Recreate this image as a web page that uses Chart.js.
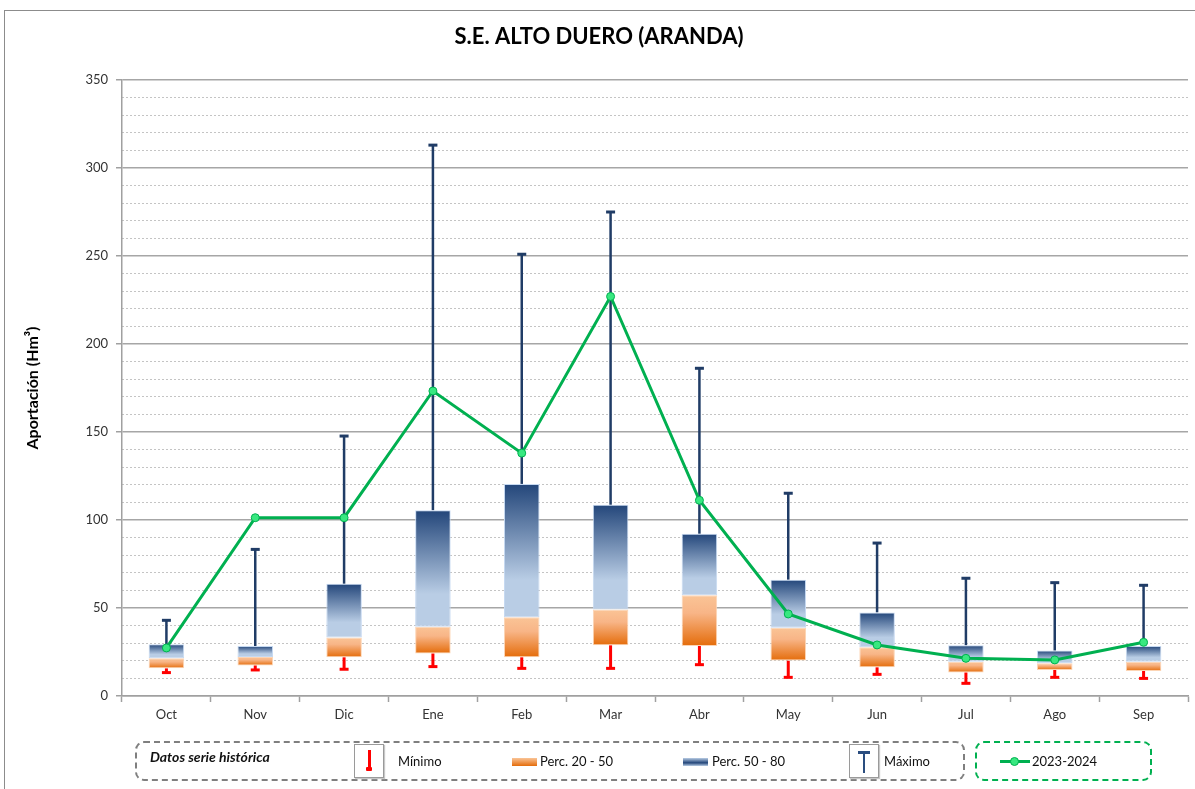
<!DOCTYPE html>
<html>
<head>
<meta charset="utf-8">
<script src="https://cdn.jsdelivr.net/npm/chart.js@4.4.1/dist/chart.umd.min.js"></script>
<style>
  html, body { margin: 0; padding: 0; background: #fff; overflow: hidden; }
  body { width: 1195px; height: 789px; position: relative; font-family: Lato, "Open Sans", sans-serif; }
  #wrap { position: absolute; left: 0; top: 0; width: 1195px; height: 789px; }
  #frame { position: absolute; left: 4px; top: 10px; width: 1200px; height: 800px; border: 1.5px solid #8c8c8c; pointer-events: none; }
  .lbox { position: absolute; border-radius: 9px; box-sizing: border-box; }
  .gray { border: 2px dashed #7f7f7f; }
  .green { border: 2px dashed #00b050; }
  .txt { position: absolute; font-size: 13px; color: #111; line-height: 16px; white-space: nowrap; }
  .icon { position: absolute; width: 30px; height: 34px; border: 1px solid #9a9a9a; box-shadow: 1px 1px 1px #c8c8c8; background: #fff; box-sizing: border-box; }
</style>
</head>
<body>
<div id="wrap"><canvas id="myChart" width="1195" height="789"></canvas></div>
<div id="frame"></div>

<div class="lbox gray" style="left:135px; top:741px; width:830px; height:40px;"></div>
<div class="lbox green" style="left:975px; top:741px; width:177px; height:40px;"></div>
<div class="txt" style="left:150px; top:749px; font-weight:bold; font-style:italic; font-size:14px;">Datos serie histórica</div>

<div class="icon" style="left:354px; top:744px;">
  <div style="position:absolute; left:13px; top:5px; width:2.5px; height:19px; background:#ff0000;"></div>
  <div style="position:absolute; left:11px; top:22px; width:6px; height:4px; background:#ff0000; border-radius:1px;"></div>
</div>
<div class="txt" style="left:398px; top:753px;">Mínimo</div>

<div style="position:absolute; left:512px; top:758px; width:25px; height:8px; background:linear-gradient(#fac496, #e46c0a);"></div>
<div class="txt" style="left:540px; top:753px;">Perc. 20 - 50</div>

<div style="position:absolute; left:683px; top:758px; width:25px; height:8px; background:linear-gradient(#b9cde5, #23467a 60%, #b9cde5);"></div>
<div class="txt" style="left:712px; top:753px;">Perc. 50 - 80</div>

<div class="icon" style="left:849px; top:744px;">
  <div style="position:absolute; left:8px; top:6px; width:12px; height:3px; background:#2a4d7f;"></div>
  <div style="position:absolute; left:12.5px; top:6px; width:2.5px; height:22px; background:#2a4d7f;"></div>
</div>
<div class="txt" style="left:884px; top:753px;">Máximo</div>

<div style="position:absolute; left:1000px; top:760px; width:30px; height:3px; background:#00b050;"></div>
<div style="position:absolute; left:1010px; top:757px; width:7px; height:7px; border-radius:50%; background:#38e880; border:1px solid #00b050;"></div>
<div class="txt" style="left:1032px; top:753px;">2023-2024</div>

<script>
const months = ['Oct', 'Nov', 'Dic', 'Ene', 'Feb', 'Mar', 'Abr', 'May', 'Jun', 'Jul', 'Ago', 'Sep'];
const minimo = [13.3, 14.8, 15.2, 16.7, 15.7, 15.7, 17.8, 10.6, 12.3, 7.2, 10.6, 10.0];
const perc20 = [15.7, 17.4, 22.0, 24.2, 22.0, 28.8, 28.4, 20.1, 16.3, 13.4, 14.8, 14.2];
const perc50 = [21.4, 22.2, 33.3, 39.4, 44.7, 49.2, 57.2, 38.8, 27.7, 19.5, 18.6, 19.5];
const perc80 = [29.4, 28.4, 63.8, 105.5, 120.5, 108.7, 92.2, 66.1, 47.5, 28.8, 25.8, 28.4];
const maximo = [43.0, 83.3, 147.7, 313.0, 251.0, 275.0, 186.2, 115.2, 86.9, 66.9, 64.4, 62.9];
const year2324 = [27.3, 101.3, 101.3, 173.3, 138.0, 227.0, 111.2, 46.6, 29.0, 21.4, 20.5, 30.5];
const yTicks = [0, 50, 100, 150, 200, 250, 300, 350];

// gradient from the bar's own value range, via the y scale
function boxGradient(stops) {
    return function(ctx) {
        const chart = ctx.chart;
        if (!chart.chartArea || ctx.type !== 'data') return stops[0][1];
        const y = chart.scales.y;
        const top = y.getPixelForValue(ctx.raw[1]);
        const bot = y.getPixelForValue(ctx.raw[0]);
        if (!isFinite(top) || !isFinite(bot) || top === bot) return stops[0][1];
        const g = chart.ctx.createLinearGradient(0, top, 0, bot);
        stops.forEach(function(s) { g.addColorStop(s[0], s[1]); });
        return g;
    };
}

function drawWhisker(ctx, cx, yFrom, yTo, color, w) {
    ctx.strokeStyle = color;
    ctx.lineWidth = w;
    ctx.lineCap = 'butt';
    ctx.beginPath();
    ctx.moveTo(cx, yFrom);
    ctx.lineTo(cx, yTo);
    ctx.stroke();
    ctx.lineWidth = 3;
    ctx.beginPath();
    ctx.moveTo(cx - 4.5, yTo);
    ctx.lineTo(cx + 4.5, yTo);
    ctx.stroke();
}

const whiskers = {
    id: 'whiskers',
    beforeDatasetsDraw(chart) {
        const {ctx, scales: {x, y}} = chart;
        ctx.save();
        months.forEach(function(m, i) {
            const cx = x.getPixelForValue(i);
            drawWhisker(ctx, cx, y.getPixelForValue(perc80[i]), y.getPixelForValue(maximo[i]), '#203c66', 2.5);
            drawWhisker(ctx, cx, y.getPixelForValue(perc20[i]), y.getPixelForValue(minimo[i]), '#ff0000', 3);
        });
        ctx.restore();
    }
};

const myChart = new Chart(document.getElementById('myChart'), {
    type: 'bar',
    plugins: [whiskers],
    data: {
        labels: months,
        datasets: [
            {
                type: 'line',
                label: '2023-2024',
                data: year2324,
                borderColor: '#00b050',
                borderWidth: 3,
                pointRadius: 4,
                pointBackgroundColor: '#38e880',
                pointBorderColor: '#00b050',
                pointBorderWidth: 1,
                tension: 0,
                order: 0
            },
            {
                label: 'Perc. 50 - 80',
                data: perc50.map(function(v, i) { return [v, perc80[i]]; }),
                backgroundColor: boxGradient([[0, '#23467a'], [0.72, '#b9cde5'], [1, '#b9cde5']]),
                borderColor: '#c6d9f1',
                borderWidth: 1,
                borderSkipped: false,
                grouped: false,
                barPercentage: 0.4,
                categoryPercentage: 1,
                order: 1
            },
            {
                label: 'Perc. 20 - 50',
                data: perc20.map(function(v, i) { return [v, perc50[i]]; }),
                backgroundColor: boxGradient([[0, '#fac496'], [0.35, '#f8b587'], [1, '#e46c0a']]),
                borderColor: '#fcd5b5',
                borderWidth: 1,
                borderSkipped: false,
                grouped: false,
                barPercentage: 0.4,
                categoryPercentage: 1,
                order: 2
            }
        ]
    },
    options: {
        responsive: false,
        animation: false,
        events: [],
        layout: {padding: {top: 14, left: 10, right: 7, bottom: 63}},
        plugins: {
            legend: {display: false},
            tooltip: {enabled: false},
            title: {
                display: true,
                text: 'S.E. ALTO DUERO (ARANDA)',
                color: '#000',
                font: {family: 'Lato', size: 22, weight: 'bold'},
                padding: {top: 10, bottom: 29.6}
            }
        },
        scales: {
            x: {
                grid: {drawOnChartArea: false, drawTicks: true, tickLength: 6, tickColor: '#a0a0a0', tickWidth: 1.5, offset: true},
                border: {color: '#a0a0a0', width: 1.5},
                ticks: {color: '#333', font: {family: 'Lato', size: 13}, padding: 5},
                afterFit: function(scale) { scale.height = 30; }
            },
            y2: {
                position: 'left',
                min: 0, max: 350,
                ticks: {display: false, stepSize: 10},
                grid: {
                    drawTicks: false,
                    lineWidth: 1,
                    color: function(ctx) { return ctx.tick && ctx.tick.value % 50 === 0 ? 'rgba(0,0,0,0)' : '#c4c4c4'; }
                },
                border: {display: false, dash: [2, 2]},
                afterFit: function(scale) { scale.width = 0; }
            },
            y: {
                position: 'left',
                min: 0, max: 350,
                afterBuildTicks: function(scale) { scale.ticks = yTicks.map(function(v) { return {value: v}; }); },
                grid: {color: '#a6a6a6', lineWidth: 1.5, drawTicks: true, tickLength: 6, tickColor: '#a0a0a0'},
                border: {color: '#a0a0a0', width: 1.5},
                ticks: {color: '#333', font: {family: 'Lato', size: 13}, padding: 8},
                title: {
                    display: true,
                    text: 'Aportación (Hm³)',
                    color: '#000',
                    font: {family: 'Lato', size: 16, weight: 'bold'},
                    padding: {top: 13, bottom: 0}
                },
                afterFit: function(scale) { scale.width = 112; }
            }
        }
    }
});
</script>
</body>
</html>
